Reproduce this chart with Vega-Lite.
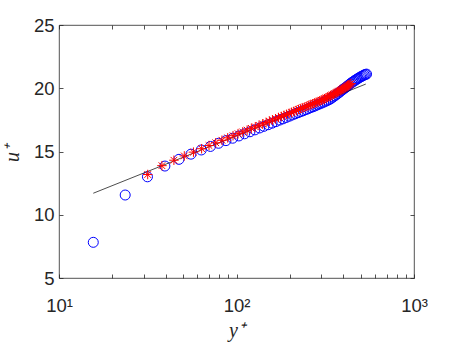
{
  "$schema": "https://vega.github.io/schema/vega-lite/v6.json",
  "width": 355,
  "height": 253,
  "autosize": {"type": "none"},
  "padding": {"left": 59, "top": 25, "right": 43, "bottom": 65},
  "background": "white",
  "config": {
    "view": {"stroke": "#262626", "strokeWidth": 0.8},
    "axis": {"grid": false, "domain": false, "tickColor": "#262626", "tickWidth": 0.8, "tickSize": -4,
      "labelColor": "#262626", "labelFont": "Liberation Sans", "labelFontSize": 18.5, "labelOverlap": false, "labelFlush": false,
      "titleColor": "#262626", "titleFont": "Liberation Serif", "titleFontStyle": "italic", "titleFontWeight": "normal", "titleFontSize": 20}
  },
  "datasets": {
    "line": [{"yp": 15.6, "up": 11.70}, {"yp": 535, "up": 20.33}],
    "blue": [
      {"yp": 15.6, "up": 7.82}, {"yp": 23.6, "up": 11.56}, {"yp": 31.5, "up": 13.00}, {"yp": 39.5, "up": 13.85},
      {"yp": 47.4, "up": 14.38}, {"yp": 55.4, "up": 14.79}, {"yp": 63.3, "up": 15.12}, {"yp": 71.3, "up": 15.40},
      {"yp": 79.2, "up": 15.65}, {"yp": 87.2, "up": 15.86}, {"yp": 95.1, "up": 16.05}, {"yp": 103.1, "up": 16.23},
      {"yp": 111.0, "up": 16.40}, {"yp": 119.0, "up": 16.56}, {"yp": 126.9, "up": 16.71}, {"yp": 134.9, "up": 16.86},
      {"yp": 142.8, "up": 16.99}, {"yp": 150.8, "up": 17.12}, {"yp": 158.7, "up": 17.24}, {"yp": 166.7, "up": 17.36},
      {"yp": 174.6, "up": 17.48}, {"yp": 182.6, "up": 17.58}, {"yp": 190.5, "up": 17.69}, {"yp": 198.5, "up": 17.79},
      {"yp": 206.4, "up": 17.89}, {"yp": 214.4, "up": 17.98}, {"yp": 222.3, "up": 18.07}, {"yp": 230.3, "up": 18.15},
      {"yp": 238.2, "up": 18.23}, {"yp": 246.2, "up": 18.31}, {"yp": 254.1, "up": 18.39}, {"yp": 262.1, "up": 18.47},
      {"yp": 270.0, "up": 18.54}, {"yp": 278.0, "up": 18.61}, {"yp": 285.9, "up": 18.69}, {"yp": 293.9, "up": 18.76},
      {"yp": 301.8, "up": 18.83}, {"yp": 309.8, "up": 18.90}, {"yp": 317.7, "up": 18.97}, {"yp": 325.7, "up": 19.04},
      {"yp": 333.6, "up": 19.11}, {"yp": 341.6, "up": 19.20}, {"yp": 349.5, "up": 19.30}, {"yp": 357.5, "up": 19.40},
      {"yp": 365.4, "up": 19.50}, {"yp": 373.4, "up": 19.60}, {"yp": 381.3, "up": 19.70}, {"yp": 389.3, "up": 19.80},
      {"yp": 397.2, "up": 19.90}, {"yp": 405.2, "up": 19.99}, {"yp": 413.1, "up": 20.08}, {"yp": 421.1, "up": 20.17},
      {"yp": 429.0, "up": 20.26}, {"yp": 437.0, "up": 20.35}, {"yp": 444.9, "up": 20.43}, {"yp": 452.9, "up": 20.51},
      {"yp": 460.8, "up": 20.58}, {"yp": 468.8, "up": 20.65}, {"yp": 476.7, "up": 20.72}, {"yp": 484.7, "up": 20.78},
      {"yp": 492.6, "up": 20.84}, {"yp": 500.6, "up": 20.90}, {"yp": 508.5, "up": 20.95}, {"yp": 516.5, "up": 21.00},
      {"yp": 524.4, "up": 21.05}, {"yp": 532.4, "up": 21.09}, {"yp": 540.3, "up": 21.12}
    ],
    "red": [
      {"yp": 31.6, "up": 13.18}, {"yp": 38.0, "up": 13.88}, {"yp": 44.4, "up": 14.31}, {"yp": 50.8, "up": 14.65},
      {"yp": 57.2, "up": 14.95}, {"yp": 63.6, "up": 15.22}, {"yp": 70.0, "up": 15.47}, {"yp": 76.4, "up": 15.69},
      {"yp": 82.8, "up": 15.89}, {"yp": 89.2, "up": 16.08}, {"yp": 95.6, "up": 16.25}, {"yp": 102.0, "up": 16.41},
      {"yp": 108.4, "up": 16.55}, {"yp": 114.8, "up": 16.69}, {"yp": 121.2, "up": 16.83}, {"yp": 127.6, "up": 16.95},
      {"yp": 134.0, "up": 17.07}, {"yp": 140.4, "up": 17.18}, {"yp": 146.8, "up": 17.29}, {"yp": 153.2, "up": 17.40},
      {"yp": 159.6, "up": 17.50}, {"yp": 166.0, "up": 17.59}, {"yp": 172.4, "up": 17.69}, {"yp": 178.8, "up": 17.77},
      {"yp": 185.2, "up": 17.86}, {"yp": 191.6, "up": 17.94}, {"yp": 198.0, "up": 18.02}, {"yp": 204.4, "up": 18.10},
      {"yp": 210.8, "up": 18.18}, {"yp": 217.2, "up": 18.25}, {"yp": 223.6, "up": 18.32}, {"yp": 230.0, "up": 18.39},
      {"yp": 236.4, "up": 18.46}, {"yp": 242.8, "up": 18.52}, {"yp": 249.2, "up": 18.58}, {"yp": 255.6, "up": 18.65},
      {"yp": 262.0, "up": 18.71}, {"yp": 268.4, "up": 18.77}, {"yp": 274.8, "up": 18.82}, {"yp": 281.2, "up": 18.88},
      {"yp": 287.6, "up": 18.94}, {"yp": 294.0, "up": 18.99}, {"yp": 300.4, "up": 19.05}, {"yp": 306.8, "up": 19.11},
      {"yp": 313.2, "up": 19.17}, {"yp": 319.6, "up": 19.23}, {"yp": 326.0, "up": 19.29}, {"yp": 332.4, "up": 19.35},
      {"yp": 338.8, "up": 19.41}, {"yp": 345.2, "up": 19.47}, {"yp": 351.6, "up": 19.53}, {"yp": 358.0, "up": 19.59},
      {"yp": 364.4, "up": 19.65}, {"yp": 370.8, "up": 19.71}, {"yp": 377.2, "up": 19.77}, {"yp": 383.6, "up": 19.83},
      {"yp": 390.0, "up": 19.89}, {"yp": 396.4, "up": 19.95}, {"yp": 402.8, "up": 20.01}, {"yp": 409.2, "up": 20.07},
      {"yp": 415.6, "up": 20.13}, {"yp": 422.0, "up": 20.19}, {"yp": 428.4, "up": 20.25}, {"yp": 434.8, "up": 20.31},
      {"yp": 441.2, "up": 20.37}
    ]
  },
  "layer": [
    {
      "data": {"name": "blue"},
      "mark": {"type": "point", "shape": "circle", "filled": false, "stroke": "#0000ff", "strokeWidth": 1, "size": 100, "opacity": 1},
      "encoding": {
        "x": {"field": "yp", "type": "quantitative", "scale": {"type": "log", "domain": [10, 1000], "nice": false},
          "axis": {"orient": "bottom", "title": "y⁺", "values": [10,20,30,40,50,60,70,80,90,100,200,300,400,500,600,700,800,900,1000],
            "labelExpr": "datum.value == 10 ? '10¹' : datum.value == 100 ? '10²' : datum.value == 1000 ? '10³' : ''",
            "labelPadding": 22, "titleY": 58, "titleBaseline": "alphabetic"}},
        "y": {"field": "up", "type": "quantitative", "scale": {"domain": [5, 25], "nice": false, "zero": false},
          "axis": {"orient": "left", "title": "u⁺", "values": [5, 10, 15, 20, 25], "labelPadding": 9,
            "titleX": -41, "titleY": 128, "titleAngle": 270, "titleAlign": "center", "titleBaseline": "alphabetic"}}
      }
    },
    {
      "data": {"name": "line"},
      "mark": {"type": "line", "color": "#000000", "strokeWidth": 0.7},
      "encoding": {
        "x": {"field": "yp", "type": "quantitative", "scale": {"type": "log", "domain": [10, 1000], "nice": false},
          "axis": {"orient": "top", "title": null, "labels": false, "values": [10,20,30,40,50,60,70,80,90,100,200,300,400,500,600,700,800,900,1000]}},
        "y": {"field": "up", "type": "quantitative", "scale": {"domain": [5, 25], "nice": false, "zero": false},
          "axis": {"orient": "right", "title": null, "labels": false, "values": [5, 10, 15, 20, 25]}}
      }
    },
    {
      "data": {"name": "red"},
      "mark": {"type": "point", "shape": "M-1,0L1,0M0,-1L0,1M-0.7,-0.7L0.7,0.7M-0.7,0.7L0.7,-0.7", "filled": false, "stroke": "#ff0000", "strokeWidth": 1, "size": 90, "opacity": 1},
      "encoding": {
        "x": {"field": "yp", "type": "quantitative", "scale": {"type": "log", "domain": [10, 1000], "nice": false}, "axis": null},
        "y": {"field": "up", "type": "quantitative", "scale": {"domain": [5, 25], "nice": false, "zero": false}, "axis": null}
      }
    }
  ],
  "resolve": {"axis": {"x": "independent", "y": "independent"}}
}
